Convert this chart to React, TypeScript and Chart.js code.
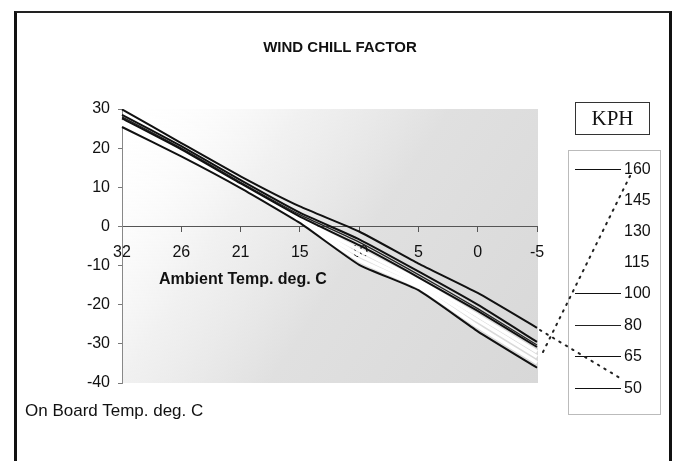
import React, { useEffect, useRef } from "react";
import { Chart, registerables } from "chart.js";

Chart.register(...registerables);

const ambientTemps = ["32", "26", "21", "15", "10", "5", "0", "-5"];
const yTicks = [30, 20, 10, 0, -10, -20, -30, -40];

const kph160 = [25.4, 17.9, 9.8, 0.9, -9.8, -16.3, -26.8, -36.1];
const kph145 = [26.0, 18.4, 10.0, 1.2, -8.6, -15.4, -25.5, -34.8];
const kph130 = [26.5, 18.8, 10.2, 1.5, -7.3, -14.6, -24.0, -33.3];
const kph115 = [27.0, 19.2, 10.5, 1.9, -6.0, -13.8, -22.8, -32.0];
const kph100 = [27.6, 19.7, 11.0, 2.5, -4.8, -13.0, -21.6, -30.8];
const kph80 = [28.0, 20.0, 11.3, 3.0, -4.0, -12.3, -21.0, -30.3];
const kph65 = [28.5, 20.5, 11.8, 3.5, -3.3, -11.5, -20.0, -29.5];
const kph50 = [29.9, 21.3, 12.8, 5.1, -1.3, -9.5, -17.0, -25.9];

const seriesLabels = ["160", "145", "130", "115", "100", "80", "65", "50"];
const seriesValues = [kph160, kph145, kph130, kph115, kph100, kph80, kph65, kph50];
const seriesColors = ["#111", "#fff", "#fff", "#fff", "#111", "#222", "#111", "#111"];
const seriesWidths = [2, 3.5, 3.5, 3.5, 2, 1.3, 2, 2];

const FONT = "Arial, 'Liberation Sans', sans-serif";

export default function App() {
  const canvasRef = useRef<HTMLCanvasElement | null>(null);

  useEffect(() => {
    const bgPlugin = {
      id: "plotBg",
      beforeDraw(chart: any) {
        const { ctx, chartArea } = chart;
        if (!chartArea) return;
        const { left, top, right, bottom } = chartArea;
        ctx.save();
        const g = ctx.createLinearGradient(left, top, right, bottom);
        g.addColorStop(0, "rgba(255,255,255,0)");
        g.addColorStop(0.3, "rgba(235,235,235,0.7)");
        g.addColorStop(0.55, "rgba(224,224,224,1)");
        g.addColorStop(1, "rgba(216,216,216,1)");
        ctx.fillStyle = g;
        ctx.fillRect(left + 1, top, right - left, bottom - top);
        ctx.restore();
      },
    };

    const chart = new Chart(canvasRef.current as HTMLCanvasElement, {
      type: "line",
      data: {
        labels: ambientTemps,
        datasets: seriesLabels.map((lab, i) => ({
          label: lab,
          data: seriesValues[i],
          borderColor: seriesColors[i],
          borderWidth: seriesWidths[i],
          pointRadius: 0,
          tension: 0.15,
          fill: false,
          order: seriesColors[i] === "#fff" ? 2 : 1,
        })),
      },
      options: {
        animation: false,
        responsive: false,
        maintainAspectRatio: false,
        layout: { padding: { left: 0, right: 143, top: 109, bottom: 78 } },
        plugins: {
          legend: { display: false },
          tooltip: { enabled: false },
          title: { display: false },
        },
        scales: {
          x: {
            type: "category",
            position: { y: 0 } as any,
            offset: false,
            grid: {
              display: true,
              drawOnChartArea: false,
              drawTicks: true,
              tickLength: 5,
              color: "#555",
            },
            border: { display: true, color: "#555", width: 1 },
            ticks: {
              color: "#111",
              font: { family: FONT, size: 16 },
              padding: 12,
              maxRotation: 0,
              autoSkip: false,
            },
          },
          y: {
            min: -40,
            max: 30,
            afterFit: (scale: any) => {
              scale.width = 122;
            },
            afterBuildTicks: (scale: any) => {
              scale.ticks = yTicks.map((v) => ({ value: v }));
            },
            grid: {
              display: true,
              drawOnChartArea: false,
              drawTicks: true,
              tickLength: 4,
              color: "#777",
            },
            border: { display: true, color: "#888", width: 1 },
            ticks: {
              color: "#111",
              font: { family: FONT, size: 16 },
              padding: 8,
            },
          },
        },
      },
      plugins: [bgPlugin],
    });
    return () => chart.destroy();
  }, []);

  const legendTops = [159, 190, 221, 252, 283, 315, 346, 378];

  return (
    <div
      style={{
        position: "fixed",
        left: 0,
        top: 0,
        width: 680,
        height: 461,
        background: "#fff",
        overflow: "hidden",
        fontFamily: FONT,
      }}
    >
      <canvas ref={canvasRef} width={680} height={461} style={{ position: "absolute", left: 0, top: 0 }} />
      <div
        style={{
          position: "absolute",
          left: 14,
          top: 11,
          width: 658,
          height: 470,
          borderLeft: "3px solid #111",
          borderTop: "2px solid #222",
          borderRight: "3px solid #111",
          boxSizing: "border-box",
        }}
      />
      <div
        style={{
          position: "absolute",
          left: 0,
          width: 680,
          top: 38,
          textAlign: "center",
          fontWeight: "bold",
          fontSize: 15,
          color: "#111",
        }}
      >
        WIND CHILL FACTOR
      </div>
      <div
        style={{
          position: "absolute",
          left: 159,
          top: 270,
          fontWeight: "bold",
          fontSize: 16,
          color: "#111",
        }}
      >
        Ambient Temp. deg. C
      </div>
      <div
        style={{
          position: "absolute",
          left: 25,
          top: 401,
          fontSize: 17,
          color: "#111",
        }}
      >
        On Board Temp. deg. C
      </div>
      <div
        style={{
          position: "absolute",
          left: 575,
          top: 102,
          width: 75,
          height: 33,
          border: "1px solid #333",
          boxSizing: "border-box",
          fontFamily: "'Liberation Serif', 'DejaVu Serif', serif",
          fontSize: 21,
          lineHeight: "31px",
          textAlign: "center",
          color: "#111",
        }}
      >
        KPH
      </div>
      <div
        style={{
          position: "absolute",
          left: 568,
          top: 150,
          width: 93,
          height: 265,
          border: "1px solid #bbb",
          boxSizing: "border-box",
        }}
      />
      {seriesLabels.map((lab, i) => (
        <div key={lab} style={{ position: "absolute", left: 575, top: legendTops[i], height: 20 }}>
          <div
            style={{
              position: "absolute",
              left: 0,
              top: 10,
              width: 46,
              height: 0,
              borderTop: `${seriesColors[i] === "#fff" ? 2 : 1.5}px solid ${seriesColors[i]}`,
            }}
          />
          <div style={{ position: "absolute", left: 49, top: 0, fontSize: 16, color: "#111", lineHeight: "20px" }}>
            {lab}
          </div>
        </div>
      ))}
      <svg
        width={680}
        height={461}
        style={{ position: "absolute", left: 0, top: 0, pointerEvents: "none" }}
      >
        <line x1={543} y1={352} x2={630} y2={176} stroke="#222" strokeWidth={2} strokeDasharray="1.5 6" strokeLinecap="round" />
        <line x1={540} y1={330} x2={620} y2={378} stroke="#222" strokeWidth={2} strokeDasharray="1.5 6" strokeLinecap="round" />
      </svg>
    </div>
  );
}
